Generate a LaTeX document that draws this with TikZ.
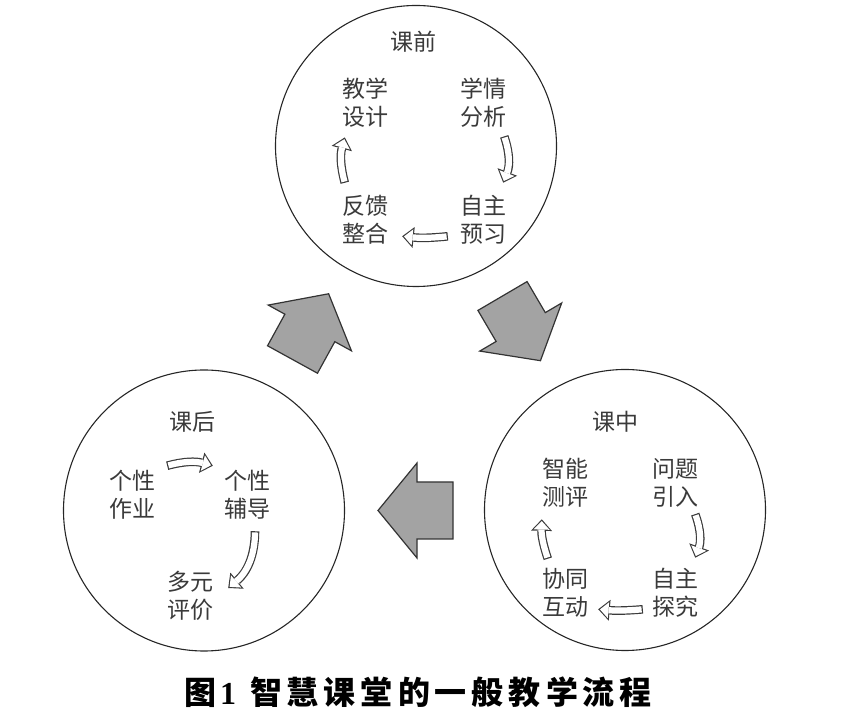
\documentclass[tikz,border=0pt]{standalone}
\usepackage{fontspec}
\usetikzlibrary{arrows.meta}
\newfontfamily\cjk{Noto Sans CJK SC}
\newfontfamily\capnum{Liberation Serif}
\definecolor{lbgrey}{HTML}{3A3A3A}
\definecolor{lbarrow}{HTML}{A3A3A3}
\newcommand\capgap{\hskip 5pt}

\begin{document}
\begin{tikzpicture}[x=1pt, y=1pt,
      phase/.style={circle, draw=black!85, line width=1.1pt, minimum size=281pt, inner sep=0pt},
      lbl/.style={font=\cjk\fontsize{23}{28}\selectfont, text=lbgrey, align=center, inner sep=0pt},
      big/.style={draw=black!80, fill=lbarrow, line width=1.2pt},
      harrow/.style={draw=white, line width=6.2pt, shorten <=1.2pt, shorten >=1.8pt,
        -{Triangle[length=8.5pt, width=16pt, line width=0pt]},
        preaction={draw=lbgrey, line width=8.6pt, shorten <=0pt, shorten >=0pt,
          -{Triangle[length=11.5pt, width=21pt, line width=0pt]}}}]
      \useasboundingbox (0,0) rectangle (856,717);
      % three phases
      \node[phase] (qian) at (416,571) {};
      \node[phase] (hou) at (204,206.5) {};
      \node[phase] (zhong) at (625,207) {};
      % before class
      \node[lbl] (tqian) at (413,675) {课前};
      \node[lbl] (jxsj) at (365,614) {教学\\设计};
      \node[lbl] (xqfx) at (483,614) {学情\\分析};
      \node[lbl] (fkzh) at (365,497) {反馈\\整合};
      \node[lbl] (zzyx) at (483,497) {自主\\预习};
      \draw[harrow] ([shift={(-2,-8.5)}]xqfx.south east) to[bend left=20] ([shift={(-3,12.5)}]zzyx.north east);
      \draw[harrow] ([shift={(-12,8.5)}]zzyx.south west) to[bend left=6] ([shift={(14,8.5)}]fkzh.south east);
      \draw[harrow] ([shift={(3,12.5)}]fkzh.north west) to[bend left=15] ([shift={(3,-9.5)}]jxsj.south west);
      % in class
      \node[lbl] (tzhong) at (615,295) {课中};
      \node[lbl] (zncp) at (565,234) {智能\\测评};
      \node[lbl] (wtyr) at (675,234) {问题\\引入};
      \node[lbl] (xthd) at (565,124) {协同\\互动};
      \node[lbl] (zztj) at (675,124) {自主\\探究};
      \draw[harrow] ([shift={(-3,-6.5)}]wtyr.south east) to[bend left=20] ([shift={(-3,10.5)}]zztj.north east);
      \draw[harrow] ([shift={(-9,8.5)}]zztj.south west) to[bend left=5] ([shift={(10,8.5)}]xthd.south east);
      \draw[harrow] ([shift={(6,9.5)}]xthd.north west) to[bend left=10] ([shift={(0,-11.5)}]zncp.south west);
      % after class
      \node[lbl] (thou) at (192,295) {课后};
      \node[lbl] (gxzy) at (132,222) {个性\\作业};
      \node[lbl] (gxfd) at (247,222) {个性\\辅导};
      \node[lbl] (dypj) at (190,121) {多元\\评价};
      \draw[harrow] ([shift={(12,4.5)}]gxzy.north east) to[bend left=15] ([shift={(-11,4.5)}]gxfd.north west);
      \draw[harrow] ([shift={(8,-11.5)}]gxfd.south) to[bend left=25] ([shift={(15,8)}]dypj.east);
      % big arrows between phases
      \foreach \pos/\ang in {{(292.5,357.5)}/61.2, {(502.5,421)}/-59.6, {(453,206.5)}/180}
        \draw[big, shift=\pos, rotate=\ang] (0,-28.5) -- (36,-28.5) -- (36,-47.5) -- (75,0)
          -- (36,47.5) -- (36,28.5) -- (0,28.5) -- cycle;
      % caption
      \node[font=\cjk\bfseries\fontsize{32}{38}\selectfont, inner sep=0pt] (cap) at (418,25)
        {图\hskip 4pt{\capnum\bfseries 1}\hskip 14pt 智\capgap 慧\capgap 课\capgap 堂\capgap 的\capgap
         一\capgap 般\capgap 教\capgap 学\capgap 流\capgap 程};
\end{tikzpicture}
\end{document}
